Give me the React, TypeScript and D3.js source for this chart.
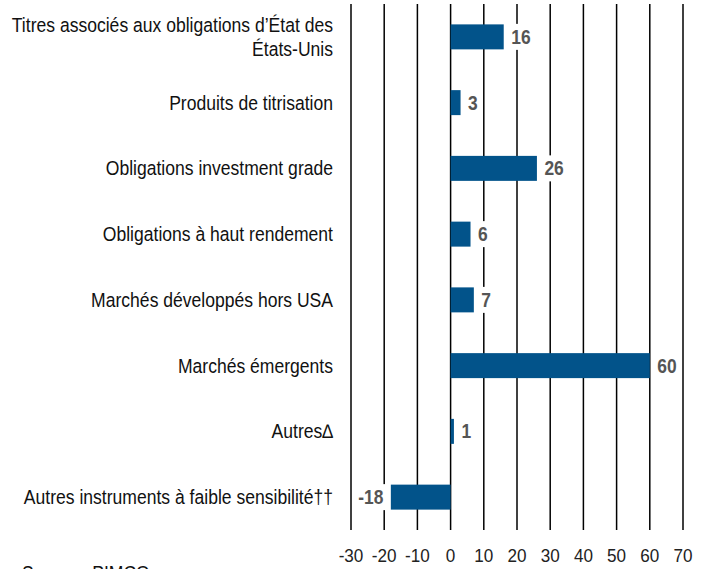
import React from "react";
import * as d3 from "d3";

const categories: string[][] = [
  ["Titres associés aux obligations d’État des", "États-Unis"],
  ["Produits de titrisation"],
  ["Obligations investment grade"],
  ["Obligations à haut rendement"],
  ["Marchés développés hors USA"],
  ["Marchés émergents"],
  ["Autres∆"],
  ["Autres instruments à faible sensibilité††"],
];
const values: number[] = [16, 3, 26, 6, 7, 60, 1, -18];
const ticks: number[] = [-30, -20, -10, 0, 10, 20, 30, 40, 50, 60, 70];
const sourceText = "Source : PIMCO";

const W = 711;
const H = 569;
const FONT = "'Liberation Sans', Arial, sans-serif";

function NText(props: {
  x: number;
  y: number;
  sx: number;
  anchor?: "start" | "middle" | "end";
  size: number;
  weight?: string;
  fill: string;
  children: React.ReactNode;
}) {
  return (
    <text
      transform={`translate(${props.x},${props.y}) scale(${props.sx},1)`}
      textAnchor={props.anchor || "start"}
      fontFamily={FONT}
      fontSize={props.size}
      fontWeight={props.weight || "normal"}
      fill={props.fill}
    >
      {props.children}
    </text>
  );
}

export default function App() {
  const x = d3.scaleLinear().domain([-30, 70]).range([351, 683]);
  const y = d3
    .scaleBand<number>()
    .domain(values.map((_, i) => i))
    .range([4, 530])
    .paddingInner(0.62)
    .paddingOuter(0.31);
  const bw = y.bandwidth();
  return (
    <div style={{ position: "absolute", left: 0, top: 0 }}>
      <svg width={W} height={H} style={{ display: "block", background: "#fff" }}>
        {ticks.map((t) => (
          <g key={t}>
            <line x1={x(t)} x2={x(t)} y1={4} y2={530} stroke="#000" strokeWidth={1.5} />
            <NText x={x(t)} y={562} sx={0.9} anchor="middle" size={19} fill="#222">
              {t}
            </NText>
          </g>
        ))}
        {values.map((v, i) => {
          const yc = (y(i) as number) + bw / 2;
          const x0 = x(Math.min(0, v));
          const x1 = x(Math.max(0, v));
          const label = String(v);
          const lw = label.length * 9.5 + 6;
          const lx = v >= 0 ? x1 + 6 : x0 - 6;
          return (
            <g key={i}>
              <rect x={x0} y={yc - bw / 2} width={x1 - x0} height={bw} fill="#02538A" />
              <rect
                x={v >= 0 ? lx - 2 : lx - lw + 2}
                y={yc - 13}
                width={lw}
                height={26}
                fill="#fff"
              />
              <NText
                x={v >= 0 ? lx + 1.5 : lx - 1.5}
                y={yc + 7}
                sx={0.87}
                anchor={v >= 0 ? "start" : "end"}
                weight="bold"
                size={20}
                fill="#555"
              >
                {label}
              </NText>
              {categories[i].map((line, k) => {
                const n = categories[i].length;
                const dy = (k - (n - 1) / 2) * 24;
                return (
                  <NText key={k} x={333} y={yc + dy + 7} sx={0.9} anchor="end" size={19.5} fill="#111">
                    {line}
                  </NText>
                );
              })}
            </g>
          );
        })}
        <NText x={22} y={580} sx={0.9} size={19.5} fill="#111">
          {sourceText}
        </NText>
      </svg>
    </div>
  );
}
